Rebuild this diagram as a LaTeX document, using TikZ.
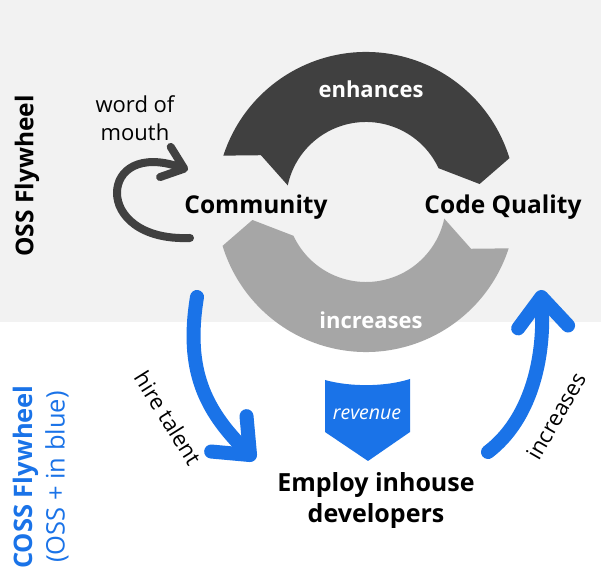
\documentclass[tikz,border=0pt]{standalone}
\usepackage{fontspec}
\setmainfont{Open Sans}
\usetikzlibrary{arrows.meta}
\definecolor{bandgrey}{HTML}{F2F2F2}
\definecolor{ringdark}{HTML}{404040}
\definecolor{ringlight}{HTML}{A6A6A6}
\definecolor{cossblue}{HTML}{1A73E8}
\begin{document}
\begin{tikzpicture}[x=1pt, y=1pt,
    stage/.style={font=\fontsize{24.5}{30}\selectfont\bfseries, align=center},
    ringtext/.style={text=white, font=\fontsize{22}{25}\selectfont\bfseries},
    sidetext/.style={font=\fontsize{22}{28}\selectfont, align=center},
    bluearrow/.style={cossblue, line width=14pt, line cap=round,
        -{Straight Barb[length=30pt, width=50pt, line cap=round, line join=round]}}]
    % Canvas and grey OSS band
    \fill[white] (0,0) rectangle (601,585);
    \fill[bandgrey] (0,263) rectangle (601,585);
    \useasboundingbox (0,0) rectangle (601,585);

    % Ring segments (OSS flywheel)
    \fill[ringdark, shift={(366,383)}] (162:150) arc[start angle=162, end angle=17, radius=150]
        -- (9:115) -- (25:80) arc[start angle=25, end angle=168, radius=80] -- (156:115) -- cycle;
    \fill[ringlight, shift={(366,383)}] (342:150) arc[start angle=342, end angle=197, radius=150]
        -- (189:115) -- (205:80) arc[start angle=205, end angle=348, radius=80] -- (336:115) -- cycle;
    \node[ringtext] (enh) at (371,496) {enhances};
    \node[ringtext] (inc) at (371,265) {increases};

    % Stages
    \node[stage] (community) at (256,378) {Community};
    \node[stage] (quality) at (503,378) {Code Quality};
    \node[stage, font=\fontsize{25}{31}\selectfont\bfseries] (employ) at (376,84) {Employ inhouse\\developers};

    % Word of mouth loop
    \node[sidetext, font=\fontsize{22}{28}\selectfont] (wom) at (135,467) {word of\\mouth};
    \coordinate (womS) at (190,347);
    \coordinate (womE) at (188,415);
    \draw[ringdark, line width=8pt, line cap=round,
        -{Straight Barb[length=20pt, width=32pt, line cap=round, line join=round]}]
        (womS) .. controls (140,345) and (117,370) .. (117,392)
        .. controls (117,415) and (140,432) .. (womE);

    % Revenue marker
    \fill[cossblue] (325,205) -- (325,153) -- (368,124) -- (410,153) -- (410,206)
        .. controls (385,198) and (350,198) .. (325,205) -- cycle;
    \node[text=white, font=\fontsize{19.5}{22}\selectfont\itshape] (rev) at (367,171) {revenue};

    % COSS arrows
    \coordinate (hireS) at (197,288);
    \coordinate (hireE) at (255,125);
    \draw[bluearrow] (hireS) .. controls (185,215) and (205,175) .. (hireE);
    \node[sidetext, rotate=-58] (hire) at (168,167) {hire talent};
    \coordinate (incS) at (488,133);
    \coordinate (incE) at (541,295);
    \draw[bluearrow] (incS) .. controls (530,165) and (545,225) .. (incE);
    \node[sidetext, rotate=60] (incr) at (556,169) {increases};

    % Side titles
    \node[font=\fontsize{24.5}{28}\selectfont\bfseries, rotate=90] (oss) at (27,409) {OSS Flywheel};
    \node[text=cossblue, rotate=90, align=center, font=\fontsize{25.5}{32}\selectfont] (coss) at (41,108)
        {\textbf{COSS Flywheel}\\(OSS + in blue)};
\end{tikzpicture}
\end{document}
